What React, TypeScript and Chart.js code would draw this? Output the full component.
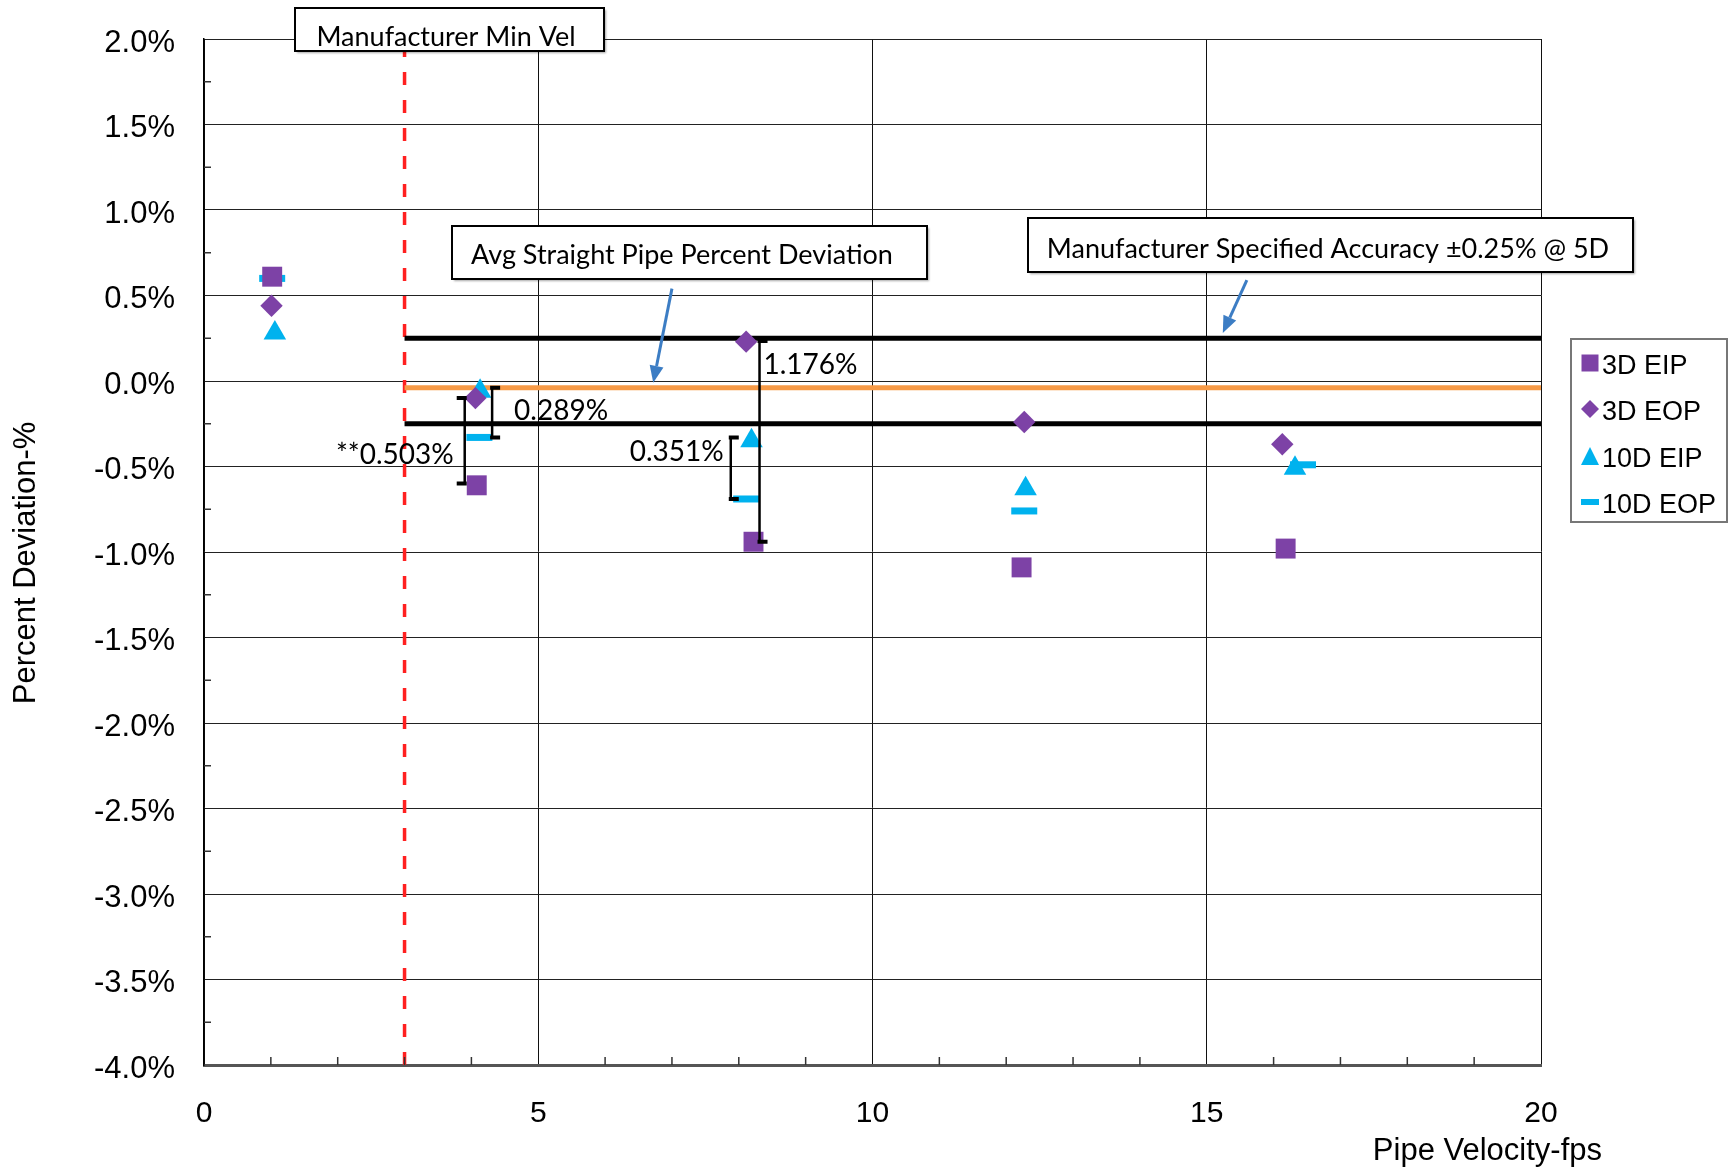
import React, { useEffect, useRef } from 'react';
import { Chart, registerables } from 'chart.js';

Chart.register(...registerables);

// ---------- data ----------
const seriesNames = ['3D EIP', '3D EOP', '10D EIP', '10D EOP'];

const velocity3DEIP = [1.02, 4.08, 8.22, 12.23, 16.18];
const deviation3DEIP = [0.61, -0.61, -0.94, -1.09, -0.98];

const velocity3DEOP = [1.01, 4.06, 8.11, 12.27, 16.13];
const deviation3DEOP = [0.44, -0.1, 0.23, -0.24, -0.37];

const velocity10DEIP = [1.06, 4.13, 8.19, 12.29, 16.32];
const deviation10DEIP = [0.28, -0.06, -0.35, -0.63, -0.51];

const velocity10DEOP = [1.02, 4.12, 8.11, 12.27, 16.44];
const deviation10DEOP = [0.6, -0.33, -0.69, -0.76, -0.49];

const xTickValues = [0, 5, 10, 15, 20];
const yTickValues = [-4, -3.5, -3, -2.5, -2, -1.5, -1, -0.5, 0, 0.5, 1, 1.5, 2];

// reference lines
const accuracyBand = [0.25, -0.25];
const avgStraightPipe = -0.04;
const minVelocity = 3;

// bracketed spans
const spanLabels = ['**0.503%', '0.289%', '0.351%', '1.176%'];
const spanX = [3.9, 4.31, 7.88, 8.31];
const spanTop = [-0.1, -0.04, -0.33, 0.234];
const spanBottom = [-0.6, -0.33, -0.69, -0.94];

// callouts (text boxes) and their arrows (arrow ends in data units)
const calloutTexts = ['Manufacturer Min Vel', 'Avg Straight Pipe Percent Deviation', 'Manufacturer Specified Accuracy ±0.25% @ 5D'];
const arrowFrom = [[7.0, 0.54], [15.6, 0.59]];
const arrowTo = [[6.72, -0.01], [15.24, 0.28]];

// ---------- styles / layout ----------
const PURPLE = '#7D42A6';
const CYAN = '#00B2EE';
const ORANGE = '#F79A46';
const RED = '#FF2020';
const ARROW = '#3C7DC4';
const AXIS_FONT = '"Liberation Sans", Arial, sans-serif';
const NOTE_FONT = 'Lato, "Open Sans", sans-serif';

const spanLayout = [
  { cap: -1, dx: -11, ly: -0.433, align: 'right' },
  { cap: 1, dx: 22, ly: -0.175, align: 'left' },
  { cap: 1, dx: -7, ly: -0.415, align: 'right' },
  { cap: 1, dx: 4, ly: 0.094, align: 'left' },
];
const calloutBoxes = [
  { x: 295, y: 8, w: 309, h: 43, tx: 446, ty: 46 },
  { x: 452, y: 226, w: 475, h: 53, tx: 682, ty: 264 },
  { x: 1028, y: 218, w: 605, h: 54, tx: 1328, ty: 258 },
];

const pts = (xs: number[], ys: number[]) => xs.map((x, i) => ({ x, y: ys[i] }));

const markerStyles = [
  { pointStyle: 'rect', pointRadius: 14.1, color: PURPLE },
  { pointStyle: 'rectRot', pointRadius: 11.2, color: PURPLE },
  { pointStyle: 'triangle', pointRadius: 13, color: CYAN },
  { pointStyle: 'line', pointRadius: 13, color: CYAN },
];

function drawMarker(ctx: CanvasRenderingContext2D, style: string, x: number, y: number, s: number, color: string) {
  ctx.save();
  ctx.fillStyle = color;
  ctx.strokeStyle = color;
  ctx.beginPath();
  if (style === 'rect') {
    ctx.rect(x - s / 2, y - s / 2, s, s);
    ctx.fill();
  } else if (style === 'rectRot') {
    ctx.moveTo(x, y - s / 2);
    ctx.lineTo(x + s / 2, y);
    ctx.lineTo(x, y + s / 2);
    ctx.lineTo(x - s / 2, y);
    ctx.closePath();
    ctx.fill();
  } else if (style === 'triangle') {
    ctx.moveTo(x, y - s / 2);
    ctx.lineTo(x + s / 2, y + s / 2);
    ctx.lineTo(x - s / 2, y + s / 2);
    ctx.closePath();
    ctx.fill();
  } else {
    ctx.lineWidth = 6;
    ctx.moveTo(x - s / 2, y);
    ctx.lineTo(x + s / 2, y);
    ctx.stroke();
  }
  ctx.restore();
}

const annotationPlugin = {
  id: 'annotations',
  afterDatasetsDraw(chart: any) {
    const { ctx } = chart;
    const xs = chart.scales.x;
    const ys = chart.scales.y;
    const area = chart.chartArea;

    // minor ticks
    ctx.save();
    ctx.strokeStyle = '#333';
    ctx.lineWidth = 1.5;
    for (let v = 1; v < 20; v++) {
      if (v % 5 === 0) continue;
      const px = xs.getPixelForValue(v);
      ctx.beginPath();
      ctx.moveTo(px, area.bottom);
      ctx.lineTo(px, area.bottom - 8);
      ctx.stroke();
    }
    for (let v = -3.75; v < 2; v += 0.5) {
      const py = ys.getPixelForValue(v);
      ctx.beginPath();
      ctx.moveTo(area.left, py);
      ctx.lineTo(area.left + 7, py);
      ctx.stroke();
    }
    ctx.restore();

    // spans (brackets)
    ctx.save();
    ctx.strokeStyle = '#000';
    ctx.fillStyle = '#000';
    for (let i = 0; i < spanX.length; i++) {
      const px = xs.getPixelForValue(spanX[i]);
      const t = ys.getPixelForValue(spanTop[i]);
      const b = ys.getPixelForValue(spanBottom[i]);
      const lay = spanLayout[i];
      ctx.lineWidth = 2.5;
      ctx.beginPath();
      ctx.moveTo(px, t);
      ctx.lineTo(px, b);
      ctx.stroke();
      ctx.lineWidth = 4;
      const c0 = lay.cap < 0 ? px - 8 : px - 2;
      const c1 = lay.cap < 0 ? px + 2 : px + 8;
      ctx.beginPath();
      ctx.moveTo(c0, t);
      ctx.lineTo(c1, t);
      ctx.moveTo(c0, b);
      ctx.lineTo(c1, b);
      ctx.stroke();

      ctx.font = `28px ${NOTE_FONT}`;
      ctx.textAlign = lay.align as CanvasTextAlign;
      ctx.textBaseline = 'middle';
      ctx.fillText(spanLabels[i], px + lay.dx, ys.getPixelForValue(lay.ly));
    }
    ctx.restore();
  },
  afterDraw(chart: any) {
    const { ctx } = chart;
    const xs = chart.scales.x;
    const ys = chart.scales.y;

    // callout boxes
    for (let i = 0; i < calloutBoxes.length; i++) {
      const bx = calloutBoxes[i];
      ctx.save();
      ctx.shadowColor = 'rgba(0,0,0,0.35)';
      ctx.shadowOffsetX = 2;
      ctx.shadowOffsetY = 2;
      ctx.shadowBlur = 2;
      ctx.fillStyle = '#fff';
      ctx.fillRect(bx.x, bx.y, bx.w, bx.h);
      ctx.restore();
      ctx.save();
      ctx.strokeStyle = '#000';
      ctx.lineWidth = 2;
      ctx.strokeRect(bx.x, bx.y, bx.w, bx.h);
      ctx.fillStyle = '#000';
      ctx.font = `27px ${NOTE_FONT}`;
      ctx.textAlign = 'center';
      ctx.textBaseline = 'alphabetic';
      ctx.fillText(calloutTexts[i], bx.tx, bx.ty);
      ctx.restore();
    }

    // arrows
    ctx.save();
    ctx.strokeStyle = ARROW;
    ctx.fillStyle = ARROW;
    ctx.lineWidth = 3;
    for (let i = 0; i < arrowFrom.length; i++) {
      const x0 = xs.getPixelForValue(arrowFrom[i][0]);
      const y0 = ys.getPixelForValue(arrowFrom[i][1]);
      const x1 = xs.getPixelForValue(arrowTo[i][0]);
      const y1 = ys.getPixelForValue(arrowTo[i][1]);
      const ang = Math.atan2(y1 - y0, x1 - x0);
      const len = 17;
      const half = 7;
      const bxp = x1 - Math.cos(ang) * len;
      const byp = y1 - Math.sin(ang) * len;
      ctx.beginPath();
      ctx.moveTo(x0, y0);
      ctx.lineTo(bxp, byp);
      ctx.stroke();
      ctx.beginPath();
      ctx.moveTo(x1, y1);
      ctx.lineTo(bxp + Math.sin(ang) * half, byp - Math.cos(ang) * half);
      ctx.lineTo(bxp - Math.sin(ang) * half, byp + Math.cos(ang) * half);
      ctx.closePath();
      ctx.fill();
    }
    ctx.restore();

    // legend
    ctx.save();
    ctx.fillStyle = '#fff';
    ctx.fillRect(1571, 339, 156, 183);
    ctx.strokeStyle = '#777';
    ctx.lineWidth = 2;
    ctx.strokeRect(1571, 339, 156, 183);
    const rows = [363, 409, 456, 502];
    ctx.font = `27px ${AXIS_FONT}`;
    ctx.textAlign = 'left';
    ctx.textBaseline = 'middle';
    for (let i = 0; i < seriesNames.length; i++) {
      const ms = markerStyles[i];
      drawMarker(ctx, ms.pointStyle, 1590, rows[i], i === 0 ? 17 : 18, ms.color);
      ctx.fillStyle = '#000';
      ctx.fillText(chart.data.datasets[i].label, 1602, rows[i] + 4);
    }
    ctx.restore();

    // axis titles
    ctx.save();
    ctx.fillStyle = '#000';
    ctx.font = `31px ${AXIS_FONT}`;
    ctx.textAlign = 'right';
    ctx.textBaseline = 'alphabetic';
    ctx.fillText('Pipe Velocity-fps', 1602, 1160);
    ctx.translate(35, 563);
    ctx.rotate(-Math.PI / 2);
    ctx.textAlign = 'center';
    ctx.fillText('Percent Deviation-%', 0, 0);
    ctx.restore();
  },
};

const App = () => {
  const ref = useRef<HTMLCanvasElement>(null);

  useEffect(() => {
    const canvas = ref.current;
    if (!canvas) return;

    const pointSets = [
      pts(velocity3DEIP, deviation3DEIP),
      pts(velocity3DEOP, deviation3DEOP),
      pts(velocity10DEIP, deviation10DEIP),
      pts(velocity10DEOP, deviation10DEOP),
    ];

    const markerDatasets = seriesNames.map((name, i) => {
      const ms = markerStyles[i];
      const isLine = ms.pointStyle === 'line';
      return {
        label: name,
        data: pointSets[i],
        pointStyle: ms.pointStyle,
        pointRadius: ms.pointRadius,
        backgroundColor: ms.color,
        borderColor: ms.color,
        borderWidth: isLine ? 7 : 0,
        showLine: false,
        order: 1,
      };
    });

    const refLine = (data: any[], color: string, width: number, dash?: number[]) => ({
      label: '',
      data,
      showLine: true,
      pointRadius: 0,
      borderColor: color,
      borderWidth: width,
      borderDash: dash || [],
      borderCapStyle: 'butt',
      fill: false,
      order: 2,
    });

    const chart = new Chart(canvas, {
      type: 'scatter',
      data: {
        datasets: [
          ...markerDatasets,
          refLine([{ x: minVelocity, y: accuracyBand[0] }, { x: 20, y: accuracyBand[0] }], '#000', 5),
          refLine([{ x: minVelocity, y: accuracyBand[1] }, { x: 20, y: accuracyBand[1] }], '#000', 5),
          refLine([{ x: minVelocity, y: avgStraightPipe }, { x: 20, y: avgStraightPipe }], ORANGE, 5),
          refLine([{ x: minVelocity, y: -4 }, { x: minVelocity, y: 2 }], RED, 3.5, [13, 15]),
        ] as any,
      },
      options: {
        responsive: false,
        animation: false,
        events: [],
        layout: { padding: { top: 39, right: 189, left: 0, bottom: 0 } },
        plugins: {
          legend: { display: false },
          tooltip: { enabled: false },
          title: { display: false },
        },
        scales: {
          x: {
            type: 'linear',
            min: 0,
            max: 20,
            afterFit: (scale: any) => {
              scale.height = 105;
              scale.paddingLeft = 0;
              scale.paddingRight = 0;
            },
            afterBuildTicks: (scale: any) => {
              scale.ticks = xTickValues.map((v) => ({ value: v }));
            },
            ticks: {
              color: '#000',
              font: { family: AXIS_FONT, size: 30 },
              padding: 31,
              maxRotation: 0,
              callback: (v: any) => String(v),
            },
            grid: { color: '#111', lineWidth: 1, drawTicks: false },
            border: { display: true, color: '#555', width: 3 },
          },
          y: {
            type: 'linear',
            min: -4,
            max: 2,
            afterFit: (scale: any) => {
              scale.width = 204;
              scale.paddingTop = 0;
              scale.paddingBottom = 0;
            },
            afterBuildTicks: (scale: any) => {
              scale.ticks = yTickValues.map((v) => ({ value: v }));
            },
            ticks: {
              color: '#000',
              font: { family: AXIS_FONT, size: 31 },
              padding: 29,
              labelOffset: 4,
              callback: (v: any) => Number(v).toFixed(1) + '%',
            },
            grid: { color: '#222', lineWidth: 1, drawTicks: false },
            border: { display: true, color: '#000', width: 1.5 },
          },
        },
      },
      plugins: [annotationPlugin],
    } as any);

    return () => chart.destroy();
  }, []);

  return (
    <div style={{ position: 'absolute', left: 0, top: 0, width: 1730, height: 1170, background: '#fff' }}>
      <canvas ref={ref} width={1730} height={1170} style={{ display: 'block' }} />
    </div>
  );
};

export default App;
